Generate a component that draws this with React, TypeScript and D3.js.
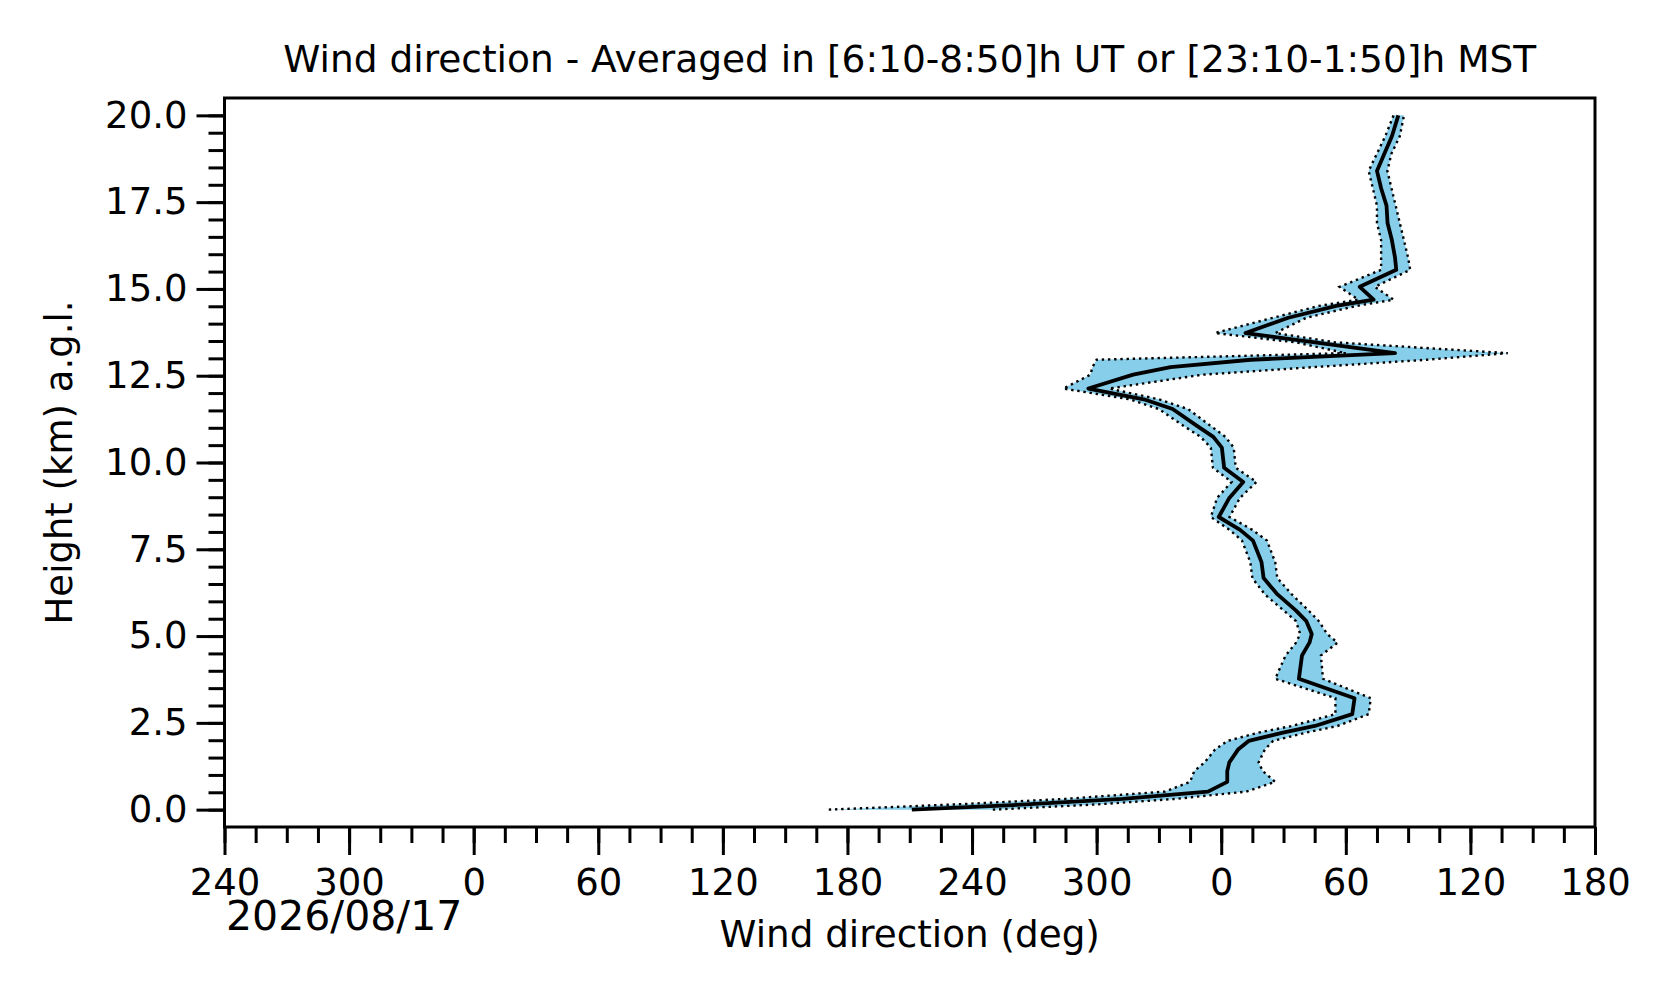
import { useEffect, useRef } from 'react'
import * as d3 from 'd3'

// heights (km a.g.l.) and wind direction, unwrapped so that 360 = 0 deg on the right half
const heights = [0, 0.15, 0.31, 0.52, 0.8, 1.11, 1.36, 1.73, 1.98, 2.22, 2.41, 2.75, 3.21, 3.77, 4.44, 4.81, 5.06, 5.43, 5.74, 6.2, 6.67, 7.13, 7.75, 8.06, 8.43, 8.98, 9.44, 9.85, 10.43, 10.74, 11.05, 11.54, 11.82, 12.13, 12.53, 12.75, 12.96, 13.15, 13.46, 13.73, 14.17, 14.51, 14.69, 15.06, 15.55, 15.9, 16.4, 16.9, 17.4, 17.9, 18.4, 18.9, 19.4, 20.0]
const meanDir = [211, 266, 312.5, 353.6, 362.9, 362.9, 363.9, 368.1, 373.2, 389.7, 405.1, 423.1, 424.2, 397.4, 398.9, 402.5, 403.6, 401.0, 395.9, 387.1, 380.4, 379.4, 375.3, 369.1, 358.8, 363.9, 370.6, 361.4, 360.3, 356.2, 348.5, 336.6, 322.7, 296.0, 317.6, 335.6, 374.2, 443.7, 405.1, 371.7, 392.3, 415.4, 433.4, 426.7, 444.3, 443.7, 442.2, 440.1, 439.6, 437.0, 435.0, 438.6, 442.2, 445.3]
const lowDir = [171, 232, 285, 333, 345, 347, 352, 357, 363, 378, 394, 415, 415, 386, 391, 396, 398, 396, 390, 381, 375, 374, 370, 364, 355, 358, 365, 356, 355, 350, 342, 330, 316, 284, 297, 298, 300, 420, 396, 357, 385, 407, 426, 417, 437, 437, 437, 435, 435, 433, 431, 435, 439, 443]
const highDir = [250, 300, 338, 372, 386, 380, 378, 381, 385, 401, 416, 431, 432, 409, 408, 416, 411, 407, 402, 394, 387, 386, 382, 375, 364, 369, 377, 367, 366, 362, 355, 344, 330, 306, 351, 405, 459, 498, 415, 386, 401, 425, 443, 434, 451, 450, 448, 446, 444, 442, 440, 442, 446, 448]

const xMajorTicks = [-120, -60, 0, 60, 120, 180, 240, 300, 360, 420, 480, 540]
const xTickLabels = ['240', '300', '0', '60', '120', '180', '240', '300', '0', '60', '120', '180']
const yMajorTicks = [0, 2.5, 5, 7.5, 10, 12.5, 15, 17.5, 20]

const W = 1676
const H = 1003
const FONT = 'DejaVu Sans, sans-serif'

export default function App() {
  const svgRef = useRef<SVGSVGElement>(null)

  useEffect(() => {
    document.body.style.margin = '0'
    const svg = svgRef.current
    if (!svg) return
    const sel = d3.select(svg)
    sel.selectAll('*').remove()

    const margin = { top: 98, right: 81, bottom: 176, left: 224.5 }
    const iw = W - margin.left - margin.right
    const ih = H - margin.top - margin.bottom

    const x = d3.scaleLinear().domain([-120, 540]).range([0, iw])
    const y = d3.scaleLinear().domain([-0.5, 20.5]).range([ih, 0])

    const g = sel.append('g').attr('transform', `translate(${margin.left},${margin.top})`)

    g.append('clipPath').attr('id', 'plot-clip')
      .append('rect').attr('width', iw).attr('height', ih)

    const rows = heights.map((h, i) => ({ h, m: meanDir[i], lo: lowDir[i], hi: highDir[i] }))
    type Row = typeof rows[number]

    const plot = g.append('g').attr('clip-path', 'url(#plot-clip)')

    // spread band
    const band = d3.area<Row>().y(d => y(d.h)).x0(d => x(d.lo)).x1(d => x(d.hi))
    plot.append('path').datum(rows)
      .attr('fill', '#87ceeb').attr('d', band)

    // dotted bounds
    const loLine = d3.line<Row>().x(d => x(d.lo)).y(d => y(d.h))
    const hiLine = d3.line<Row>().x(d => x(d.hi)).y(d => y(d.h))
    ;[loLine, hiLine].forEach(fn => {
      plot.append('path').datum(rows)
        .attr('fill', 'none').attr('stroke', '#000').attr('stroke-width', 2.4)
        .attr('stroke-dasharray', '2.4,3.8').attr('d', fn)
    })

    // mean profile
    const meanLine = d3.line<Row>().x(d => x(d.m)).y(d => y(d.h))
    plot.append('path').datum(rows)
      .attr('fill', 'none').attr('stroke', '#000').attr('stroke-width', 3.8)
      .attr('stroke-linejoin', 'round').attr('d', meanLine)

    const styleAxis = (ag: d3.Selection<SVGGElement, unknown, null, undefined>) => {
      ag.select('.domain').remove()
      ag.attr('font-family', FONT).attr('font-size', 37)
      ag.selectAll('line').attr('stroke', '#000').attr('stroke-width', 3)
      ag.selectAll('text').attr('fill', '#000')
    }

    // x axis
    g.append('g').attr('transform', `translate(0,${ih})`)
      .call(d3.axisBottom(x).tickValues(d3.range(-120, 541, 15)).tickSize(16).tickSizeOuter(0).tickFormat(() => ''))
      .call(styleAxis)
    g.append('g').attr('transform', `translate(0,${ih})`)
      .call(d3.axisBottom(x).tickValues(xMajorTicks).tickSize(28).tickSizeOuter(0).tickPadding(14)
        .tickFormat((_, i) => xTickLabels[i]))
      .call(styleAxis)

    // y axis
    g.append('g')
      .call(d3.axisLeft(y).tickValues(d3.range(0, 20.01, 0.5)).tickSize(16).tickSizeOuter(0).tickFormat(() => ''))
      .call(styleAxis)
    g.append('g')
      .call(d3.axisLeft(y).tickValues(yMajorTicks).tickSize(28).tickSizeOuter(0).tickPadding(9)
        .tickFormat(d => d3.format('.1f')(d as number)))
      .call(styleAxis)

    // frame
    g.append('rect').attr('width', iw).attr('height', ih)
      .attr('fill', 'none').attr('stroke', '#000').attr('stroke-width', 3)

    // title and labels
    sel.append('text')
      .attr('x', margin.left + iw / 2).attr('y', 72)
      .attr('text-anchor', 'middle').attr('font-family', FONT).attr('font-size', 37.5)
      .text('Wind direction - Averaged in [6:10-8:50]h UT or [23:10-1:50]h MST')

    sel.append('text')
      .attr('x', margin.left + iw / 2).attr('y', 947)
      .attr('text-anchor', 'middle').attr('font-family', FONT).attr('font-size', 37.3)
      .text('Wind direction (deg)')

    sel.append('text')
      .attr('transform', `translate(72,${margin.top + ih / 2}) rotate(-90)`)
      .attr('text-anchor', 'middle').attr('font-family', FONT).attr('font-size', 37)
      .text('Height (km) a.g.l.')

    sel.append('text')
      .attr('x', 226).attr('y', 930)
      .attr('font-family', FONT).attr('font-size', 41)
      .text('2026/08/17')
  }, [])

  return (
    <svg
      ref={svgRef}
      width={W}
      height={H}
      viewBox={`0 0 ${W} ${H}`}
      style={{ display: 'block', background: '#fff' }}
    />
  )
}
